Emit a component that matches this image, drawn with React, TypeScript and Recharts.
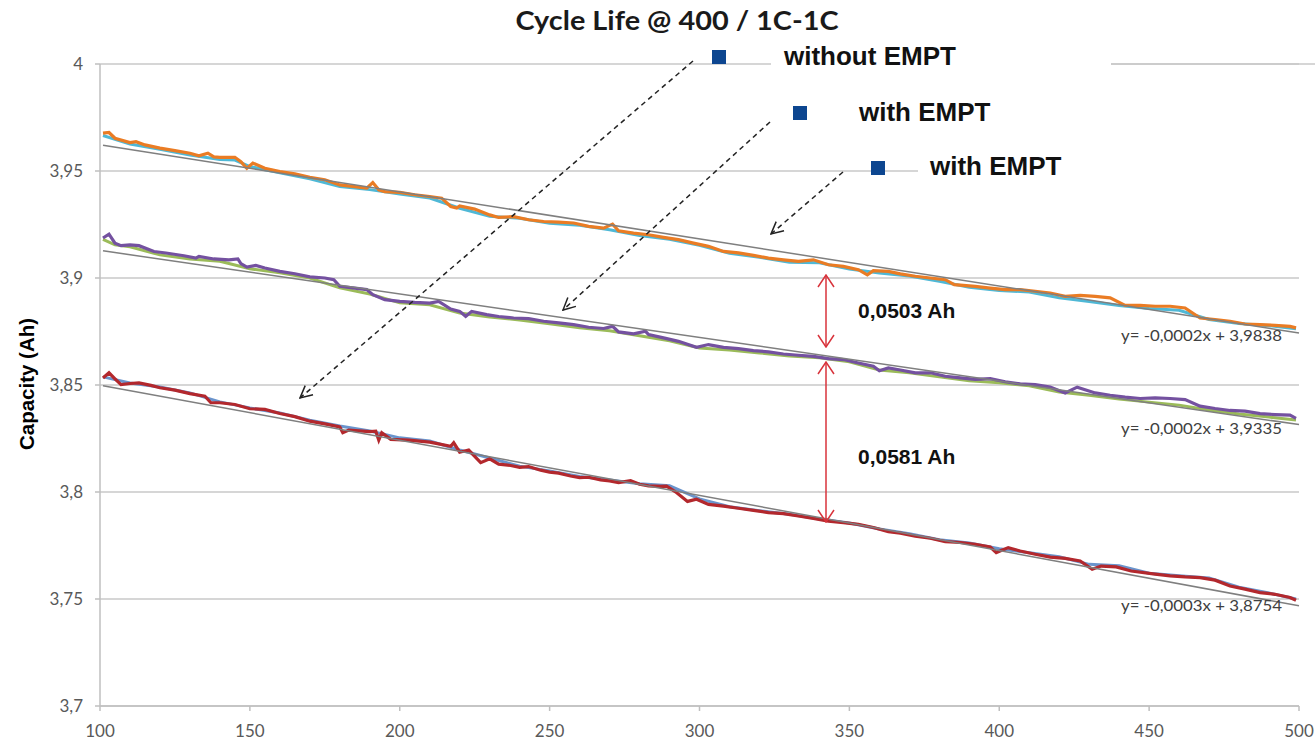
import { LineChart, Line, XAxis, YAxis, CartesianGrid } from "recharts"

type Pair = [number, number]

// capacity (Ah) per cycle
const ORANGE: Pair[] = [
  [101, 3.9677], [103, 3.968], [105, 3.9653], [110, 3.9633], [112, 3.9637], [115, 3.9622], [120, 3.9607],
  [125, 3.9595], [130, 3.9583], [133, 3.9571], [136, 3.9583], [138, 3.9566], [140, 3.9564], [145, 3.9564],
  [147, 3.9544], [149, 3.9513], [151, 3.9537], [155, 3.9513], [160, 3.9497], [165, 3.9487], [170, 3.9471],
  [175, 3.9459], [180, 3.9435], [185, 3.9427], [189, 3.942], [191, 3.9446], [193, 3.9412], [195, 3.9404],
  [200, 3.94], [205, 3.9389], [210, 3.9381], [214, 3.9373], [217, 3.9334], [219, 3.9327], [220, 3.9337],
  [225, 3.9322], [230, 3.9295], [233, 3.9283], [238, 3.9287], [243, 3.9272], [248, 3.9264], [253, 3.9261],
  [258, 3.9257], [263, 3.9241], [268, 3.9233], [271, 3.9252], [273, 3.9221], [278, 3.921], [283, 3.9202],
  [288, 3.919], [293, 3.9179], [298, 3.9163], [303, 3.9148], [308, 3.9124], [313, 3.9117], [318, 3.9106],
  [323, 3.9093], [328, 3.9085], [333, 3.9078], [338, 3.9085], [343, 3.9062], [348, 3.9054], [353, 3.9039],
  [356, 3.9015], [358, 3.9034], [363, 3.9031], [367, 3.9019], [372, 3.9008], [377, 3.9], [382, 3.8992],
  [385, 3.8969], [392, 3.8961], [397, 3.8953], [402, 3.8946], [407, 3.8946], [412, 3.8938], [417, 3.893],
  [422, 3.8914], [427, 3.8919], [432, 3.8914], [437, 3.8907], [442, 3.8872], [447, 3.8872], [452, 3.8868],
  [457, 3.8868], [462, 3.886], [467, 3.8813], [472, 3.8806], [477, 3.8798], [482, 3.8785], [487, 3.8782],
  [492, 3.8779], [497, 3.8774], [499, 3.8767],
]

const CYAN: Pair[] = [
  [101, 3.9666], [105, 3.9648], [110, 3.9626], [120, 3.9601], [130, 3.9575], [140, 3.9554], [145, 3.9551],
  [150, 3.9521], [160, 3.9492], [170, 3.9464], [180, 3.9428], [190, 3.9413], [200, 3.9392], [210, 3.9374],
  [220, 3.9326], [230, 3.9288], [240, 3.9279], [250, 3.9256], [260, 3.9246], [270, 3.9225], [280, 3.9198],
  [290, 3.9181], [300, 3.9153], [310, 3.9116], [320, 3.9097], [330, 3.9074], [340, 3.9071], [350, 3.9042],
  [360, 3.9023], [370, 3.9009], [380, 3.8985], [390, 3.8957], [400, 3.8942], [410, 3.8934], [420, 3.8908],
  [430, 3.889], [440, 3.8871], [450, 3.8857], [460, 3.8849], [470, 3.8806], [480, 3.8787], [490, 3.8777],
  [499, 3.8763],
]

const PURPLE: Pair[] = [
  [101, 3.9187], [103, 3.9205], [105, 3.9163], [107, 3.9151], [110, 3.9155], [113, 3.9151], [118, 3.9124],
  [122, 3.9117], [128, 3.9104], [132, 3.9093], [133, 3.9101], [138, 3.9089], [143, 3.9085], [146, 3.9089],
  [147, 3.9067], [149, 3.9051], [152, 3.9059], [155, 3.9047], [160, 3.9031], [165, 3.902], [170, 3.9005],
  [175, 3.9], [178, 3.8992], [180, 3.8961], [185, 3.8953], [189, 3.8946], [191, 3.8922], [195, 3.8899],
  [200, 3.8891], [205, 3.8886], [210, 3.8883], [213, 3.8891], [217, 3.8855], [220, 3.8844], [222, 3.8821],
  [224, 3.8844], [229, 3.8829], [233, 3.882], [238, 3.8813], [243, 3.881], [248, 3.8798], [253, 3.879],
  [258, 3.8782], [263, 3.877], [268, 3.8764], [271, 3.8774], [273, 3.8748], [278, 3.8739], [282, 3.8751],
  [283, 3.8736], [288, 3.872], [293, 3.8704], [299, 3.8676], [303, 3.8689], [308, 3.8676], [313, 3.867],
  [318, 3.8661], [323, 3.8655], [328, 3.8645], [333, 3.8639], [338, 3.8634], [343, 3.8623], [348, 3.8619],
  [353, 3.8603], [358, 3.8588], [360, 3.8567], [363, 3.858], [367, 3.857], [372, 3.8557], [377, 3.8557],
  [382, 3.8541], [387, 3.8533], [392, 3.8526], [397, 3.853], [402, 3.8515], [407, 3.8505], [412, 3.8502],
  [417, 3.849], [422, 3.8463], [426, 3.849], [432, 3.8463], [437, 3.8452], [442, 3.8443], [447, 3.8437],
  [452, 3.844], [457, 3.8437], [462, 3.8432], [467, 3.8401], [472, 3.839], [477, 3.8381], [482, 3.8378],
  [487, 3.8366], [492, 3.8362], [497, 3.8359], [499, 3.8344],
]

const GREEN: Pair[] = [
  [101, 3.9181], [105, 3.9155], [110, 3.9146], [120, 3.9108], [130, 3.9089], [140, 3.9078], [150, 3.9043],
  [160, 3.9024], [170, 3.9], [180, 3.8954], [190, 3.8925], [200, 3.8884], [210, 3.8875], [220, 3.8836],
  [230, 3.8818], [240, 3.8804], [250, 3.8786], [260, 3.8767], [270, 3.8753], [280, 3.873], [290, 3.8707],
  [300, 3.8673], [310, 3.8664], [320, 3.865], [330, 3.8636], [340, 3.8627], [350, 3.8608], [360, 3.857],
  [370, 3.8557], [380, 3.8538], [390, 3.852], [400, 3.851], [410, 3.8496], [420, 3.8467], [430, 3.8452],
  [440, 3.8434], [450, 3.842], [460, 3.8406], [470, 3.8383], [480, 3.8364], [490, 3.835], [499, 3.8336],
]

const RED: Pair[] = [
  [101, 3.8533], [103, 3.8557], [105, 3.8529], [107, 3.8502], [110, 3.8507], [113, 3.851], [117, 3.8498],
  [120, 3.8487], [125, 3.8476], [130, 3.846], [135, 3.8448], [137, 3.8417], [140, 3.8417], [145, 3.8409],
  [150, 3.8389], [155, 3.8386], [160, 3.8367], [165, 3.8352], [170, 3.8331], [175, 3.8318], [180, 3.8304],
  [181, 3.8277], [183, 3.8289], [190, 3.8282], [192, 3.8284], [193, 3.8242], [194, 3.8277], [197, 3.8246],
  [203, 3.8242], [210, 3.8233], [217, 3.8214], [218, 3.823], [220, 3.8186], [223, 3.8196], [227, 3.8137],
  [230, 3.8155], [233, 3.813], [237, 3.8124], [240, 3.8115], [243, 3.8119], [247, 3.8102], [250, 3.8093],
  [253, 3.8088], [257, 3.8075], [260, 3.8067], [263, 3.8069], [267, 3.8057], [270, 3.8052], [273, 3.8044],
  [277, 3.8053], [280, 3.8036], [283, 3.8029], [287, 3.8026], [289, 3.8027], [292, 3.8001], [296, 3.7956],
  [299, 3.7966], [303, 3.7942], [308, 3.7934], [313, 3.7924], [318, 3.7914], [323, 3.7904], [328, 3.7899],
  [333, 3.7888], [338, 3.7877], [343, 3.7864], [348, 3.7857], [353, 3.7849], [358, 3.7834], [363, 3.7815],
  [367, 3.7808], [372, 3.7794], [377, 3.7784], [382, 3.7768], [387, 3.7764], [392, 3.7756], [397, 3.7743],
  [399, 3.7717], [403, 3.774], [407, 3.7724], [412, 3.7709], [417, 3.7696], [422, 3.769], [427, 3.7678],
  [431, 3.7639], [434, 3.7654], [439, 3.765], [444, 3.7631], [452, 3.7616], [457, 3.7608], [462, 3.7603],
  [467, 3.76], [472, 3.7588], [477, 3.7561], [482, 3.7546], [487, 3.753], [492, 3.7522], [497, 3.7507],
  [499, 3.7494],
]

const BLUE: Pair[] = [
  [101, 3.8538], [110, 3.8509], [120, 3.8491], [130, 3.8463], [140, 3.8421], [150, 3.8393], [160, 3.8369],
  [170, 3.8336], [180, 3.8308], [190, 3.8285], [200, 3.8253], [210, 3.8238], [220, 3.8196], [230, 3.8159],
  [240, 3.8121], [250, 3.8098], [260, 3.8072], [270, 3.8056], [280, 3.8039], [290, 3.8029], [300, 3.7968],
  [310, 3.7931], [320, 3.7912], [330, 3.7896], [340, 3.7874], [350, 3.7855], [360, 3.7827], [370, 3.7805],
  [380, 3.7777], [390, 3.7762], [400, 3.7735], [410, 3.7716], [420, 3.7697], [430, 3.7662], [440, 3.7655],
  [450, 3.762], [460, 3.7609], [470, 3.7598], [480, 3.7555], [490, 3.7528], [499, 3.75],
]

// linear trend lines as drawn (ends)
const TREND_TOP: Pair[] = [[101, 3.962], [500, 3.8743]]
const TREND_MID: Pair[] = [[101, 3.9127], [500, 3.8315]]
const TREND_LOW: Pair[] = [[101, 3.8497], [500, 3.7468]]

const X_TICKS = [100, 150, 200, 250, 300, 350, 400, 450, 500]
const Y_TICKS = [3.7, 3.75, 3.8, 3.85, 3.9, 3.95, 4]

const TITLE = "Cycle Life @ 400 / 1C-1C"
const LEGEND = ["without EMPT", "with EMPT", "with EMPT"]
const GAPS = ["0,0503 Ah", "0,0581 Ah"]
const EQUATIONS = ["y= -0,0002x + 3,9838", "y= -0,0002x + 3,9335", "y= -0,0003x + 3,8754"]

const toPts = (arr: Pair[]) => arr.map(([cycle, cap]) => ({ cycle, cap }))
const comma = (v: number) => String(v).replace(".", ",")

const tickFont = { fontFamily: "Lato, 'Open Sans', sans-serif", fontSize: 17, fill: "#595959" }
const boldFont = "'Liberation Sans', Arial, sans-serif"

export default function App() {
  const series = [
    { key: "cyan", data: CYAN, color: "#4fb8d6", w: 3 },
    { key: "orange", data: ORANGE, color: "#ea7c24", w: 3.2 },
    { key: "green", data: GREEN, color: "#9bbb59", w: 3 },
    { key: "purple", data: PURPLE, color: "#7451a0", w: 3.2 },
    { key: "blue", data: BLUE, color: "#6a94cc", w: 3 },
    { key: "red", data: RED, color: "#b3282d", w: 3.2 },
    { key: "t1", data: TREND_TOP, color: "#7f7f7f", w: 1.5 },
    { key: "t2", data: TREND_MID, color: "#7f7f7f", w: 1.5 },
    { key: "t3", data: TREND_LOW, color: "#7f7f7f", w: 1.5 },
  ]

  return (
    <div style={{ position: "absolute", left: 0, top: 0, width: 1315, height: 744, background: "#fff" }}>
      <LineChart width={1315} height={744} margin={{ top: 64, right: 16, bottom: 0, left: 0 }}>
        <CartesianGrid vertical={false} stroke="#c9c9c9" strokeWidth={1.5} />
        <XAxis
          type="number"
          dataKey="cycle"
          domain={[100, 500]}
          ticks={X_TICKS}
          height={38}
          tickSize={5}
          tickMargin={14}
          stroke="#bfbfbf"
          strokeWidth={1.5}
          tick={tickFont}
          allowDuplicatedCategory={false}
        />
        <YAxis
          type="number"
          domain={[3.7, 4]}
          ticks={Y_TICKS}
          width={100}
          tickSize={5}
          tickMargin={12}
          tickFormatter={comma}
          stroke="#bfbfbf"
          strokeWidth={1.5}
          tick={tickFont}
        />
        {series.map((s) => (
          <Line
            key={s.key}
            data={toPts(s.data)}
            dataKey="cap"
            stroke={s.color}
            strokeWidth={s.w}
            dot={false}
            activeDot={false}
            type="linear"
            isAnimationActive={false}
          />
        ))}
      </LineChart>

      <svg
        width={1315}
        height={744}
        style={{ position: "absolute", left: 0, top: 0, pointerEvents: "none" }}
      >
        <defs>
          <marker id="dashHead" viewBox="0 0 14 14" refX="13" refY="7" markerWidth="14" markerHeight="14"
            markerUnits="userSpaceOnUse" orient="auto">
            <path d="M1,1 L13,7 L1,13" fill="none" stroke="#222" strokeWidth="1.5" />
          </marker>
          <marker id="redHead" viewBox="0 0 14 18" refX="13" refY="9" markerWidth="14" markerHeight="18"
            markerUnits="userSpaceOnUse" orient="auto-start-reverse">
            <path d="M1,1 L13,9 L1,17" fill="none" stroke="#d8333b" strokeWidth="1.5" />
          </marker>
        </defs>

        {/* legend boxes hide gridlines behind them */}
        <rect x={771} y={55} width={340} height={18} fill="#fff" />
        <line x1={1111} y1={64} x2={1315} y2={64} stroke="#c9c9c9" strokeWidth={1.5} />
        <rect x={918} y={163} width={397} height={16} fill="#fff" />

        <text x={677} y={30} textAnchor="middle" fontFamily="Lato, sans-serif" fontWeight="bold"
          fontSize={26} fill="#1a1a1a" textLength={323} lengthAdjust="spacingAndGlyphs">
          {TITLE}
        </text>

        <text transform="translate(34,384) rotate(-90)" textAnchor="middle" fontFamily={boldFont}
          fontWeight="bold" fontSize={20.5} fill="#000">
          Capacity (Ah)
        </text>

        <rect x={712} y={50} width={14} height={14} fill="#0d4690" />
        <rect x={793} y={106} width={14} height={14} fill="#0d4690" />
        <rect x={871} y={161} width={14} height={14} fill="#0d4690" />
        <text x={784} y={65} fontFamily={boldFont} fontWeight="bold" fontSize={26} fill="#111">{LEGEND[0]}</text>
        <text x={859} y={121} fontFamily={boldFont} fontWeight="bold" fontSize={26} fill="#111">{LEGEND[1]}</text>
        <text x={930} y={175} fontFamily={boldFont} fontWeight="bold" fontSize={26} fill="#111">{LEGEND[2]}</text>

        <line x1={693} y1={61} x2={300} y2={398} stroke="#222" strokeWidth={1.5} strokeDasharray="5 4" markerEnd="url(#dashHead)" />
        <line x1={770} y1={122} x2={563} y2={310} stroke="#222" strokeWidth={1.5} strokeDasharray="5 4" markerEnd="url(#dashHead)" />
        <line x1={843} y1={172} x2={771} y2={234} stroke="#222" strokeWidth={1.5} strokeDasharray="5 4" markerEnd="url(#dashHead)" />

        <line x1={826} y1={275} x2={826} y2={347} stroke="#d8333b" strokeWidth={1.5}
          markerStart="url(#redHead)" markerEnd="url(#redHead)" />
        <line x1={826} y1={362} x2={826} y2={522} stroke="#d8333b" strokeWidth={1.5}
          markerStart="url(#redHead)" markerEnd="url(#redHead)" />
        <text x={858} y={318} fontFamily={boldFont} fontWeight="bold" fontSize={21} fill="#111">{GAPS[0]}</text>
        <text x={858} y={464} fontFamily={boldFont} fontWeight="bold" fontSize={21} fill="#111">{GAPS[1]}</text>

        <text x={1121} y={341} fontFamily="Lato, sans-serif" fontSize={16} fill="#404040" textLength={161} lengthAdjust="spacingAndGlyphs">{EQUATIONS[0]}</text>
        <text x={1121} y={434} fontFamily="Lato, sans-serif" fontSize={16} fill="#404040" textLength={161} lengthAdjust="spacingAndGlyphs">{EQUATIONS[1]}</text>
        <text x={1121} y={611} fontFamily="Lato, sans-serif" fontSize={16} fill="#404040" textLength={161} lengthAdjust="spacingAndGlyphs">{EQUATIONS[2]}</text>
      </svg>
    </div>
  )
}
